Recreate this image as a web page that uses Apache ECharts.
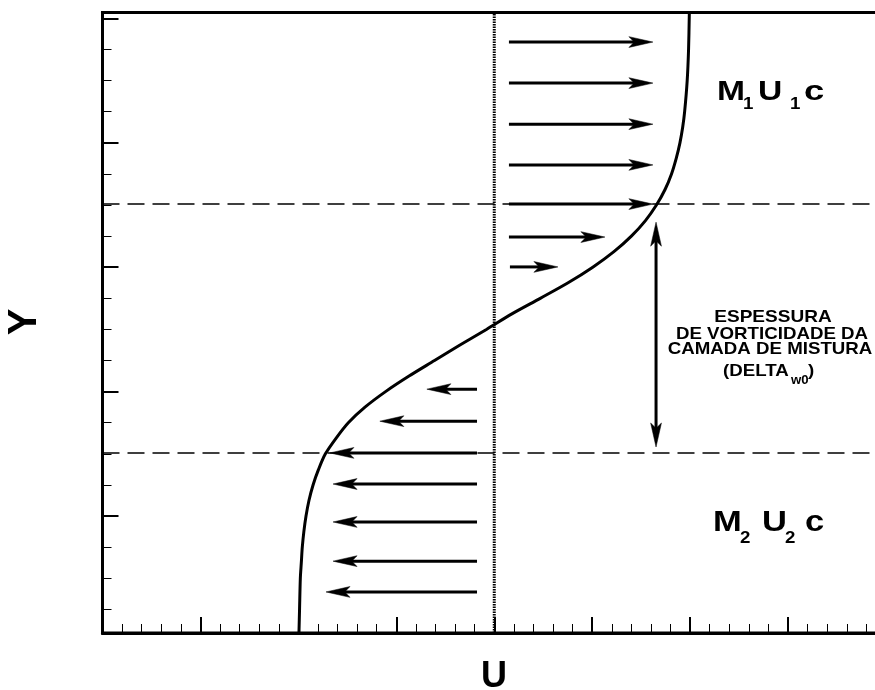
<!DOCTYPE html>
<html>
<head>
<meta charset="utf-8">
<title>Camada de mistura</title>
<script src="https://cdn.jsdelivr.net/npm/echarts@6/dist/echarts.min.js"></script>
<style>
  html, body { margin: 0; padding: 0; background: #fff; overflow: hidden; }
  /* the plot frame runs past the right edge of the page */
  #chart { width: 900px; height: 690px; }
</style>
</head>
<body>
<div id="chart"></div>
<script>
// Velocity profile of the mixing layer: U as a function of Y
const profileY = [-3.76, -3, -2, -1.5, -1, -0.5, 0, 0.5, 1, 1.5, 2, 2.5, 3, 3.5, 4, 4.5, 5, 5.5, 6, 6.5, 7, 7.5, 8, 8.5, 9, 9.5, 10, 10.5, 11, 11.5, 12, 12.5, 13, 14, 15, 16.19];
const profileU = [10.03, 10.06, 10.10, 10.15, 10.20, 10.28, 10.39, 10.54, 10.75, 11.03, 11.38, 11.92, 12.55, 13.40, 14.45, 15.65, 16.95, 18.25, 19.60, 20.90, 22.35, 23.77, 25.03, 26.11, 27.00, 27.72, 28.28, 28.72, 29.05, 29.29, 29.48, 29.62, 29.72, 29.85, 29.92, 29.96];

// Upper stream velocity arrows (pointing right)
const upperArrowY    = [15.24, 13.92, 12.60, 11.29, 10.03, 8.97, 8.01];
const upperArrowTail = [20.75, 20.75, 20.75, 20.75, 20.75, 20.75, 20.8];
const upperArrowTip  = [28.1, 28.1, 28.1, 28.1, 28.1, 25.65, 23.25];

// Lower stream velocity arrows (pointing left)
const lowerArrowY    = [4.08, 3.05, 2.03, 1.03, -0.19, -1.45, -2.44];
const lowerArrowTail = [19.12, 19.12, 19.12, 19.12, 19.12, 19.12, 19.12];
const lowerArrowTip  = [16.56, 14.16, 11.61, 11.77, 11.77, 11.77, 11.41];

// Vorticity thickness: bounding lines and the double-headed arrow
const thicknessBounds = [10.03, 2.03];
const thicknessArrowU = 28.26;
const thicknessArrowY = [9.45, 2.22];

// Centre line
const centreU = 20;

// Axis extents and tick positions
const uRange = [0, 40];
const yRange = [-3.76, 16.19];
const yMajorTicks = [0, 4, 8, 12, 16];
const yMinorTicks = [-3, -2, -1, 1, 2, 3, 5, 6, 7, 9, 10, 11, 13, 14, 15];

const FONT = '"Liberation Sans", Arial, Helvetica, sans-serif';

// Arrow items: [x0, y0, x1, y1, doubleHeaded]
const arrowData = [];
upperArrowY.forEach((y, i) => arrowData.push([upperArrowTail[i], y, upperArrowTip[i], y, 0]));
lowerArrowY.forEach((y, i) => arrowData.push([lowerArrowTail[i], y, lowerArrowTip[i], y, 0]));
arrowData.push([thicknessArrowU, thicknessArrowY[0], thicknessArrowU, thicknessArrowY[1], 1]);

function renderArrow(params, api) {
  const a = api.coord([api.value(0), api.value(1)]);
  const b = api.coord([api.value(2), api.value(3)]);
  const both = api.value(4) === 1;
  const dx = b[0] - a[0], dy = b[1] - a[1];
  const len = Math.hypot(dx, dy) || 1;
  const ux = dx / len, uy = dy / len;
  const L = 24, W = 5.4, N = 0.78;
  function head(p, sx, sy) {
    const px = -sy, py = sx;
    const bx = p[0] - sx * L, by = p[1] - sy * L;
    return {
      type: 'polygon',
      shape: { points: [
        [p[0], p[1]],
        [bx + px * W, by + py * W],
        [p[0] - sx * L * N, p[1] - sy * L * N],
        [bx - px * W, by - py * W]
      ] },
      style: { fill: '#000', stroke: '#000', lineWidth: 0.5 }
    };
  }
  const s0 = both ? [a[0] + ux * L * N, a[1] + uy * L * N] : a;
  const s1 = [b[0] - ux * L * (N - 0.05), b[1] - uy * L * (N - 0.05)];
  const children = [
    { type: 'line', shape: { x1: s0[0], y1: s0[1], x2: s1[0], y2: s1[1] },
      style: { stroke: '#000', lineWidth: 3 } },
    head(b, ux, uy)
  ];
  if (both) children.push(head(a, -ux, -uy));
  return { type: 'group', children };
}

function txt(x, y, text, size, scaleX, align, extra) {
  return Object.assign({
    type: 'text', x, y, scaleX: scaleX, z: 100,
    style: {
      text, fill: '#000',
      font: 'bold ' + size + 'px ' + FONT,
      textAlign: align || 'left', textVerticalAlign: 'middle'
    }
  }, extra || {});
}

const chart = echarts.init(document.getElementById('chart'), null, { renderer: 'canvas' });

chart.setOption({
  animation: false,
  backgroundColor: '#fff',
  grid: {
    left: 102.5, top: 12.5, width: 783.5, height: 620.5,
    outerBoundsMode: 'none', containLabel: false,
    show: true, borderColor: '#000', borderWidth: 3, backgroundColor: 'transparent'
  },
  xAxis: {
    type: 'value', min: uRange[0], max: uRange[1], interval: 5,
    axisLine: { show: true, onZero: false, lineStyle: { color: '#000', width: 3 } },
    axisTick: { show: true, inside: true, length: 16, lineStyle: { color: '#000', width: 2 } },
    minorTick: { show: true, splitNumber: 5, length: 9, lineStyle: { color: '#000', width: 1 } },
    axisLabel: { show: false },
    splitLine: { show: false }
  },
  yAxis: [
    {
      type: 'value', min: yRange[0], max: yRange[1], position: 'left', offset: 0,
      axisLine: { show: true, onZero: false, lineStyle: { color: '#000', width: 3 } },
      axisTick: { show: true, inside: true, length: 16, customValues: yMajorTicks,
                  lineStyle: { color: '#000', width: 2 } },
      axisLabel: { show: false },
      splitLine: { show: false }
    },
    {
      type: 'value', min: yRange[0], max: yRange[1], position: 'left', offset: 0,
      axisLine: { show: false, onZero: false },
      axisTick: { show: true, inside: true, length: 9, customValues: yMinorTicks,
                  lineStyle: { color: '#000', width: 1 } },
      axisLabel: { show: false },
      splitLine: { show: false }
    }
  ],
  series: [
    {
      type: 'line', name: 'limite superior', z: 1, symbol: 'none', silent: true,
      data: [[uRange[0], thicknessBounds[0]], [uRange[1], thicknessBounds[0]]],
      lineStyle: { color: '#000', width: 1.5, type: [17, 8] }
    },
    {
      type: 'line', name: 'limite inferior', z: 1, symbol: 'none', silent: true,
      data: [[uRange[0], thicknessBounds[1]], [uRange[1], thicknessBounds[1]]],
      lineStyle: { color: '#000', width: 1.5, type: [17, 8] }
    },
    {
      type: 'line', name: 'centro', z: 1, symbol: 'none', silent: true,
      data: [[centreU, yRange[0]], [centreU, yRange[1]]],
      lineStyle: { color: '#000', width: 3, type: [1.5, 1] }
    },
    {
      type: 'line', name: 'perfil U(Y)', z: 3, symbol: 'none', smooth: 0.3, silent: true,
      data: profileY.map((y, i) => [profileU[i], y]),
      lineStyle: { color: '#000', width: 3 }
    },
    {
      type: 'custom', name: 'setas', z: 4, silent: true,
      renderItem: renderArrow,
      data: arrowData
    }
  ],
  graphic: [
    // axis titles
    txt(494, 677, 'U', 36, 1, 'center'),
    txt(25, 322, 'Y', 40, 1, 'center', { rotation: Math.PI / 2 }),
    // upper stream
    txt(717, 92, 'M', 28, 1.2),
    txt(743, 104.5, '1', 17, 1.1),
    txt(758, 92, 'U', 28, 1.2),
    txt(790, 104.5, '1', 17, 1.1),
    txt(804, 92, 'c', 28, 1.3),
    // lower stream
    txt(713, 523, 'M', 30, 1.15),
    txt(740, 538.5, '2', 17, 1.1),
    txt(762, 523, 'U', 30, 1.15),
    txt(785, 538.5, '2', 17, 1.1),
    txt(805, 523, 'c', 30, 1.15),
    // vorticity thickness annotation
    txt(773, 317, 'ESPESSURA', 17, 1.12, 'center'),
    txt(772, 334.5, 'DE VORTICIDADE DA', 17, 1.1, 'center'),
    txt(770, 349.5, 'CAMADA DE MISTURA', 17, 1.1, 'center'),
    txt(723, 371.5, '(DELTA', 17, 1.1, 'left'),
    txt(791, 380.5, 'w0', 12, 1.1, 'left'),
    txt(808, 371.5, ')', 17, 1.1, 'left')
  ]
});
</script>
</body>
</html>
